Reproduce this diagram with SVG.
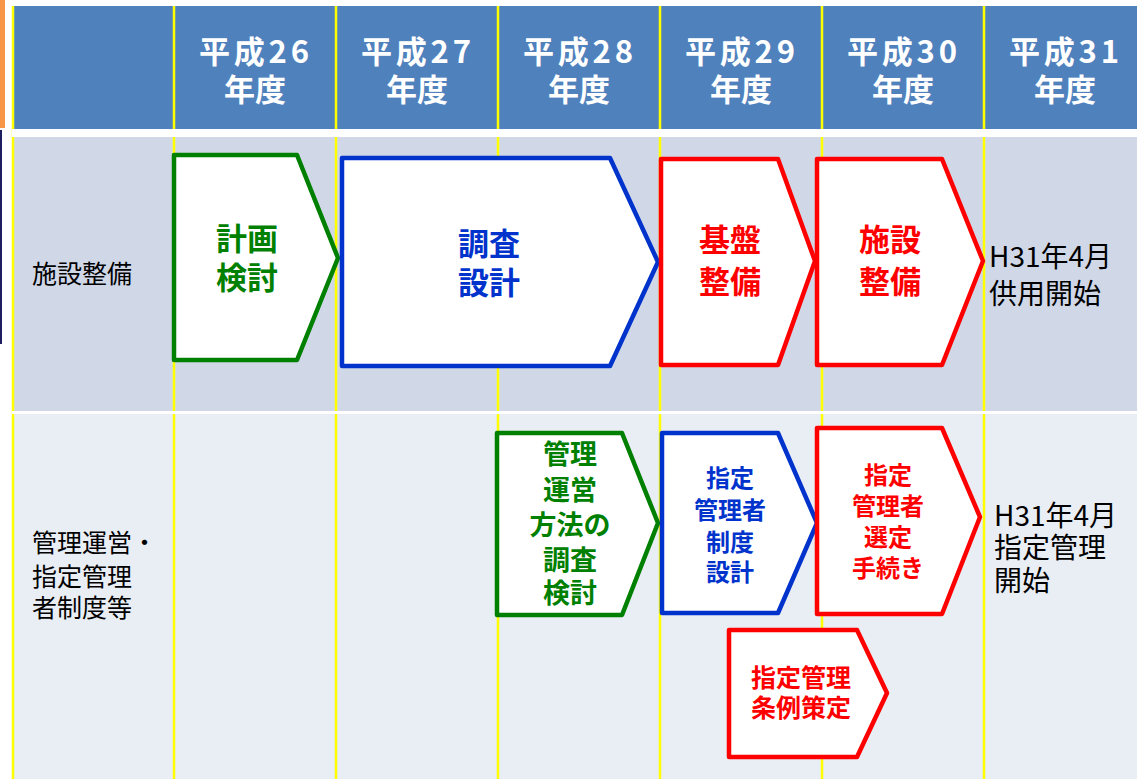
<svg xmlns="http://www.w3.org/2000/svg" width="1137" height="779" viewBox="0 0 1137 779">
<defs>
<style>
text{font-family:"Noto Sans CJK JP","Noto Sans",sans-serif}
.hd{fill:#fff;font-size:31px;font-weight:bold;text-anchor:middle}
.lbl{fill:#000;font-size:25px}
.note{fill:#000;font-size:28px}
.box{fill:#fff;stroke-width:4.5;stroke-linejoin:round}
.g{stroke:#008000}.gt{fill:#008000}
.b{stroke:#0033CC}.bt{fill:#0033CC}
.r{stroke:#FF0000}.rt{fill:#FF0000}
.bt2{font-weight:bold;text-anchor:middle}
.yl{stroke:#FFFF00;stroke-width:2.5}
</style>
</defs>
<rect width="1137" height="779" fill="#fff"/>
<rect x="0" y="0" width="5" height="128" fill="#F79646"/>
<rect x="0" y="130" width="2" height="214" fill="#1F1F5F"/>
<g id="grid">
<rect x="12" y="6" width="1125" height="123" fill="#4F81BD"/>
<rect x="12" y="137" width="1125" height="274" fill="#D0D8E8"/>
<rect x="12" y="414" width="1125" height="365" fill="#E9EDF4"/>
<g class="yl">
<line x1="13" y1="6" x2="13" y2="779"/>
<line x1="174" y1="6" x2="174" y2="779"/>
<line x1="336" y1="6" x2="336" y2="779"/>
<line x1="498" y1="6" x2="498" y2="779"/>
<line x1="660" y1="6" x2="660" y2="779"/>
<line x1="822" y1="6" x2="822" y2="779"/>
<line x1="984" y1="6" x2="984" y2="779"/>
</g>
<rect x="12" y="129" width="1125" height="8" fill="#fff"/>
<rect x="12" y="411" width="1125" height="3" fill="#fff"/>
</g>
<g id="header">
<text class="hd" x="254" y="63" textLength="110" lengthAdjust="spacing">平成26</text><text class="hd" x="255" y="101">年度</text>
<text class="hd" x="416" y="63" textLength="110" lengthAdjust="spacing">平成27</text><text class="hd" x="417" y="101">年度</text>
<text class="hd" x="578" y="63" textLength="110" lengthAdjust="spacing">平成28</text><text class="hd" x="579" y="101">年度</text>
<text class="hd" x="740" y="63" textLength="110" lengthAdjust="spacing">平成29</text><text class="hd" x="741" y="101">年度</text>
<text class="hd" x="902" y="63" textLength="110" lengthAdjust="spacing">平成30</text><text class="hd" x="903" y="101">年度</text>
<text class="hd" x="1064" y="63" textLength="110" lengthAdjust="spacing">平成31</text><text class="hd" x="1065" y="101">年度</text>
</g>
<g id="row-labels">
<text class="lbl" x="32" y="283" font-size="28">施設整備</text>
<text class="lbl" x="32" y="552">管理運営・</text>
<text class="lbl" x="32" y="586">指定管理</text>
<text class="lbl" x="32" y="617">者制度等</text>
</g>
<g id="connectors"></g>
<g id="n1">
<path class="box g" d="M174,155 L297,155 L338,258 L297,360 L174,360 Z"/>
<text class="gt bt2" font-size="31" x="247" y="250">計画</text>
<text class="gt bt2" font-size="31" x="247" y="289">検討</text>
</g>
<g id="n2">
<path class="box b" d="M342,158 L610,158 L658,262 L610,366 L342,366 Z"/>
<text class="bt bt2" font-size="31" x="489" y="255">調査</text>
<text class="bt bt2" font-size="31" x="489" y="294">設計</text>
</g>
<g id="n3">
<path class="box r" d="M661,159 L778,159 L815,261 L778,365 L661,365 Z"/>
<text class="rt bt2" font-size="31" x="730" y="251">基盤</text>
<text class="rt bt2" font-size="31" x="730" y="293">整備</text>
</g>
<g id="n4">
<path class="box r" d="M817,159 L942,159 L983,261 L942,365 L817,365 Z"/>
<text class="rt bt2" font-size="31" x="890" y="251">施設</text>
<text class="rt bt2" font-size="31" x="890" y="293">整備</text>
</g>
<g id="t1">
<text class="note" x="989" y="267">H31年4月</text>
<text class="note" x="989" y="304">供用開始</text>
</g>
<g id="n5">
<path class="box g" d="M497,433 L622,433 L658,523 L622,615 L497,615 Z"/>
<text class="gt bt2" font-size="27" x="570" y="464">管理</text>
<text class="gt bt2" font-size="27" x="570" y="500">運営</text>
<text class="gt bt2" font-size="27" x="570" y="535">方法の</text>
<text class="gt bt2" font-size="27" x="570" y="570">調査</text>
<text class="gt bt2" font-size="27" x="570" y="603">検討</text>
</g>
<g id="n6">
<path class="box b" d="M662,433 L778,433 L817,523 L778,613 L662,613 Z"/>
<text class="bt bt2" font-size="24" x="730" y="487">指定</text>
<text class="bt bt2" font-size="24" x="730" y="519">管理者</text>
<text class="bt bt2" font-size="24" x="730" y="551">制度</text>
<text class="bt bt2" font-size="24" x="730" y="581">設計</text>
</g>
<g id="n7">
<path class="box r" d="M817,428 L942,428 L980,517 L942,614 L817,614 Z"/>
<text class="rt bt2" font-size="24" x="888" y="484">指定</text>
<text class="rt bt2" font-size="24" x="888" y="515">管理者</text>
<text class="rt bt2" font-size="24" x="888" y="546">選定</text>
<text class="rt bt2" font-size="24" x="888" y="577">手続き</text>
</g>
<g id="n8">
<path class="box r" d="M729,630 L857,630 L887,693 L857,757 L729,757 Z"/>
<text class="rt bt2" font-size="25" x="801" y="687">指定管理</text>
<text class="rt bt2" font-size="25" x="801" y="717">条例策定</text>
</g>
<g id="t2">
<text class="note" x="994" y="526" font-size="27">H31年4月</text>
<text class="note" x="994" y="558" font-size="27">指定管理</text>
<text class="note" x="994" y="591" font-size="27">開始</text>
</g>
</svg>
